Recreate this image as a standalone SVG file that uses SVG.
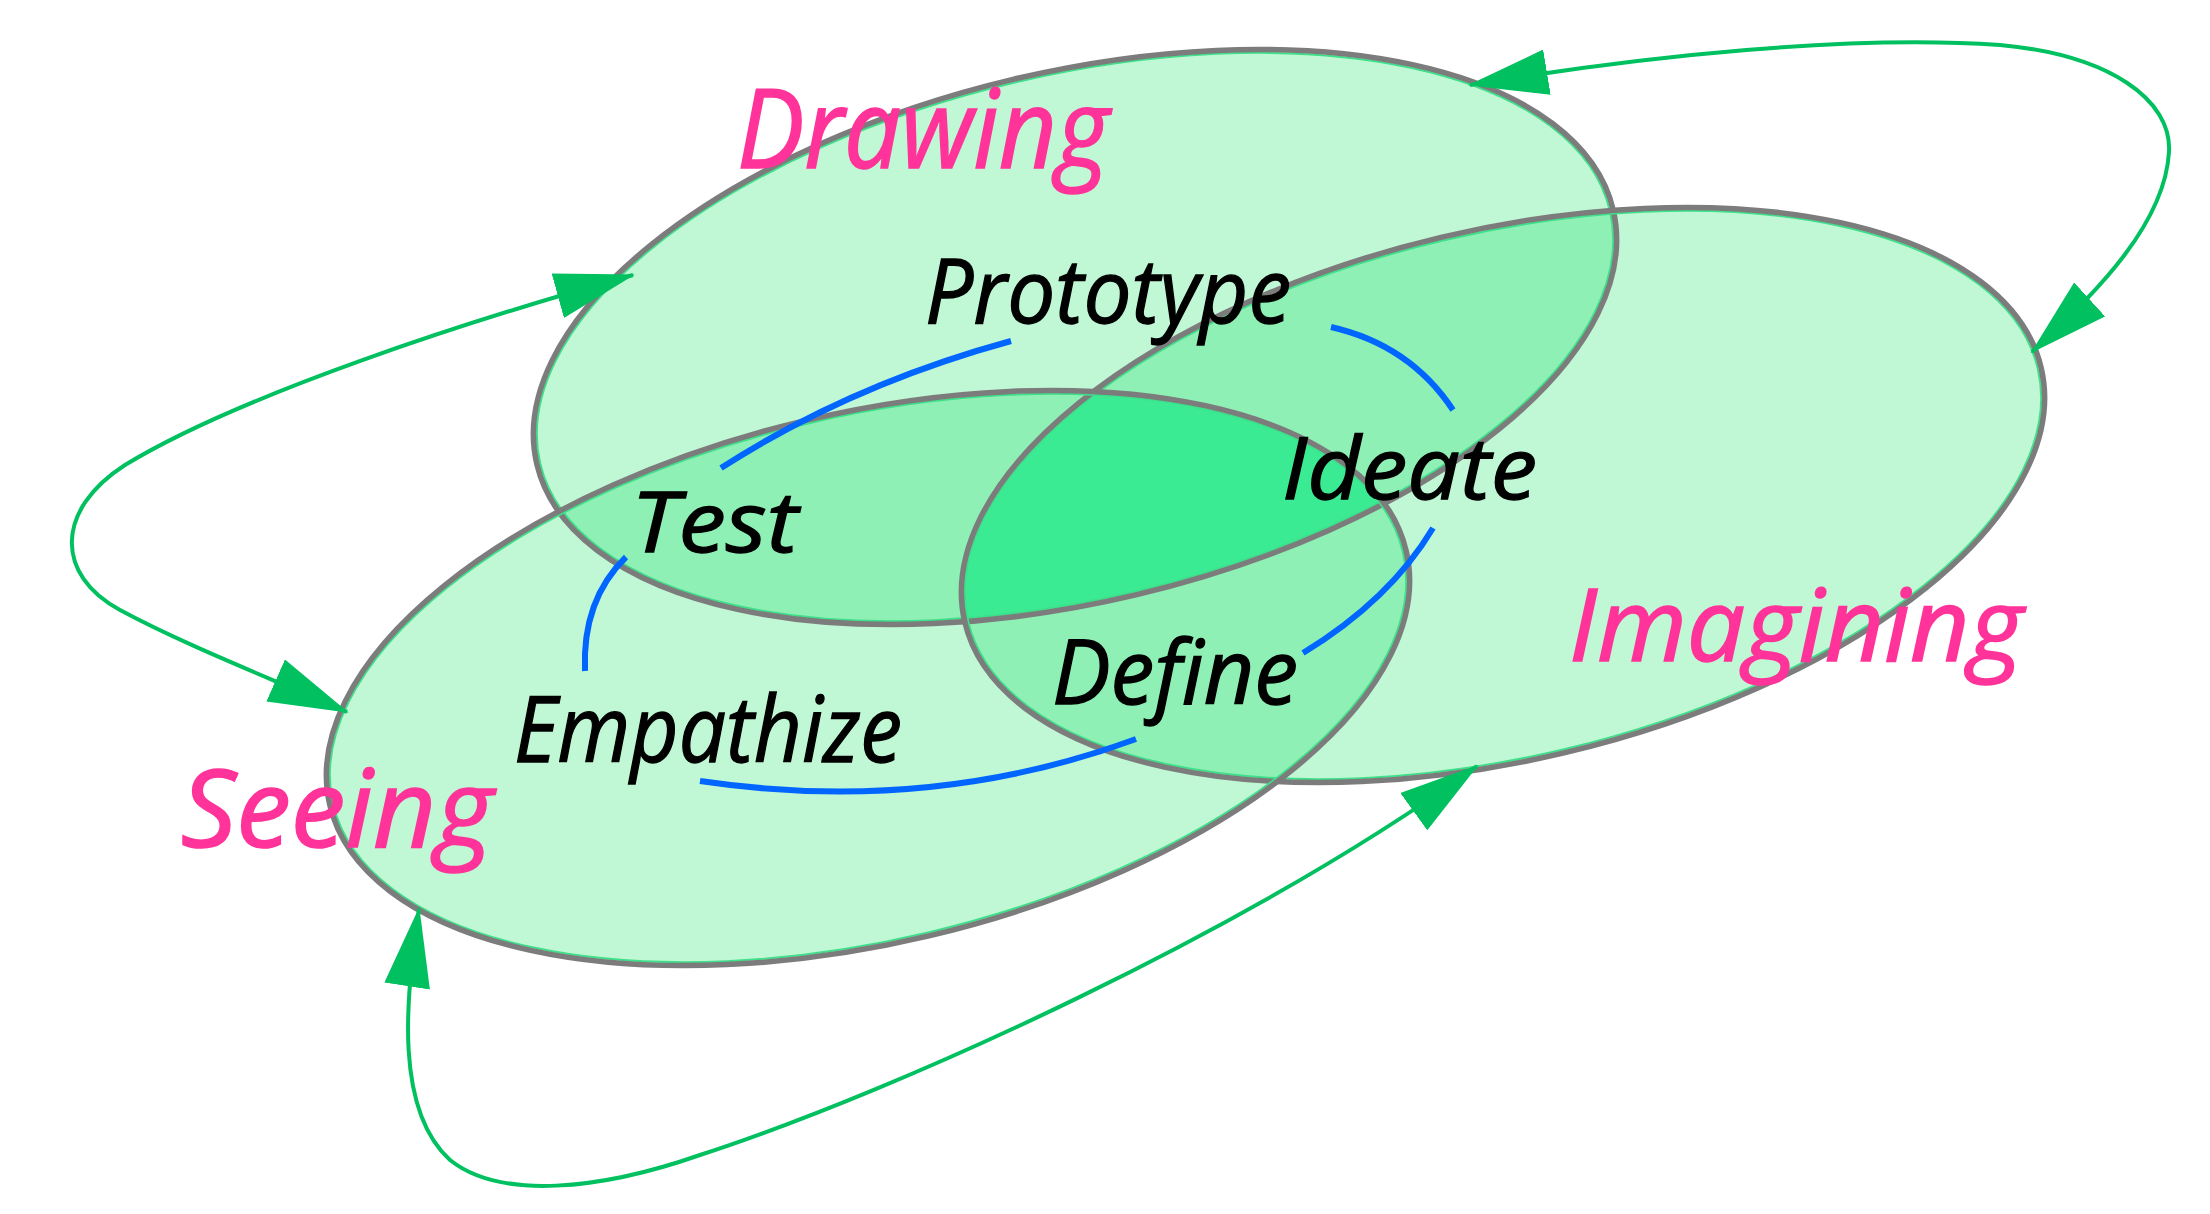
<svg xmlns="http://www.w3.org/2000/svg" xmlns:xlink="http://www.w3.org/1999/xlink" width="2210" height="1214" viewBox="0 0 2210 1214">
<defs>
<style>
.fill1{fill:#c0f7d4}
.fill2{fill:#8ef0b4}
.fill3{fill:#3aeb94}
.outline{fill:none;stroke:#7c7c7c;stroke-width:5.5}
.inner{fill:none;stroke:#3ee08a;stroke-width:2}
.set{font-family:'Comic Sans MS','Open Sans','Noto Sans',sans-serif;font-style:italic;fill:#ff3399;stroke:#ff3399;stroke-width:1.6}
.stage{font-family:'Comic Sans MS','Open Sans','Noto Sans',sans-serif;font-style:italic;fill:#000000;stroke:#000000;stroke-width:1.3}
.loop{fill:none;stroke:#00c060;stroke-width:4;marker-start:url(#ah);marker-end:url(#ah)}
.cycle{fill:none;stroke:#0066ff;stroke-width:6}
</style>
<ellipse id="eD" cx="1075" cy="337" rx="553" ry="265" transform="rotate(-13.3 1075 337)"/>
<ellipse id="eS" cx="868" cy="678" rx="553" ry="265" transform="rotate(-13.3 868 678)"/>
<ellipse id="eI" cx="1503" cy="495" rx="553" ry="265" transform="rotate(-13.3 1503 495)"/>
<ellipse id="nD" cx="1075" cy="337" rx="549.5" ry="261.5" transform="rotate(-13.3 1075 337)"/>
<ellipse id="nS" cx="868" cy="678" rx="549.5" ry="261.5" transform="rotate(-13.3 868 678)"/>
<ellipse id="nI" cx="1503" cy="495" rx="549.5" ry="261.5" transform="rotate(-13.3 1503 495)"/>
<clipPath id="cD"><use xlink:href="#eD"/></clipPath>
<clipPath id="cS"><use xlink:href="#eS"/></clipPath>
<clipPath id="cI"><use xlink:href="#eI"/></clipPath>
<marker id="ah" markerUnits="userSpaceOnUse" viewBox="0 0 80 46" markerWidth="80" markerHeight="46" refX="78" refY="23" orient="auto-start-reverse">
<path d="M0,0 L80,23 L0,46 z" fill="#00c060"/>
</marker>
</defs>
<rect x="0" y="0" width="2210" height="1214" fill="#ffffff"/>

<g id="region-fills">
<use xlink:href="#eD" class="fill1"/>
<use xlink:href="#eI" class="fill1"/>
<use xlink:href="#eS" class="fill1"/>
<g clip-path="url(#cS)"><use xlink:href="#eD" class="fill2"/></g>
<g clip-path="url(#cI)"><use xlink:href="#eD" class="fill2"/></g>
<g clip-path="url(#cI)"><use xlink:href="#eS" class="fill2"/></g>
<g clip-path="url(#cS)"><g clip-path="url(#cI)"><use xlink:href="#eD" class="fill3"/></g></g>
</g>

<g id="node-drawing">
<use xlink:href="#nD" class="inner"/>
<use xlink:href="#eD" class="outline"/>
</g>
<g id="node-imagining">
<use xlink:href="#nI" class="inner"/>
<use xlink:href="#eI" class="outline"/>
</g>
<g id="node-seeing">
<use xlink:href="#nS" class="inner"/>
<use xlink:href="#eS" class="outline"/>
</g>

<g id="connectors">
<path id="loop-drawing-seeing" class="loop" d="M633,275 C470,320 240,395 125,465 C55,510 55,575 120,610 C185,645 270,678 347,712"/>
<path id="loop-drawing-imagining" class="loop" d="M1470,85 C1650,55 1850,35 2000,45 C2110,55 2172,100 2169,152 C2165,222 2100,290 2032,352"/>
<path id="loop-seeing-imagining" class="loop" d="M419,909 C405,1000 395,1110 450,1160 C500,1200 600,1190 700,1155 C900,1090 1250,930 1477,766"/>
<path id="arc-prototype-test" class="cycle" d="M1011,341 Q850,385 721,468"/>
<path id="arc-prototype-ideate" class="cycle" d="M1331,327 Q1410,345 1453,410"/>
<path id="arc-ideate-define" class="cycle" d="M1433,528 Q1390,600 1303,653"/>
<path id="arc-define-empathize" class="cycle" d="M1136,739 Q930,815 700,781"/>
<path id="arc-empathize-test" class="cycle" d="M585,671 Q582,600 626,557"/>
</g>

<g id="label-drawing"><text class="set" x="737" y="168" font-size="110" textLength="372" lengthAdjust="spacingAndGlyphs">Drawing</text></g>
<g id="label-imagining"><text class="set" x="1569" y="661" font-size="100" textLength="454" lengthAdjust="spacingAndGlyphs">Imagining</text></g>
<g id="label-seeing"><text class="set" x="181" y="847" font-size="108" textLength="312" lengthAdjust="spacingAndGlyphs">Seeing</text></g>

<g id="stage-prototype"><text class="stage" x="925" y="323" font-size="90" textLength="366" lengthAdjust="spacingAndGlyphs">Prototype</text></g>
<g id="stage-ideate"><text class="stage" x="1282" y="499" font-size="86" textLength="255" lengthAdjust="spacingAndGlyphs">Ideate</text></g>
<g id="stage-test"><text class="stage" x="631" y="552" font-size="84" textLength="167" lengthAdjust="spacingAndGlyphs">Test</text></g>
<g id="stage-define"><text class="stage" x="1052" y="704" font-size="90" textLength="246" lengthAdjust="spacingAndGlyphs">Define</text></g>
<g id="stage-empathize"><text class="stage" x="514" y="762" font-size="92" textLength="388" lengthAdjust="spacingAndGlyphs">Empathize</text></g>
</svg>
